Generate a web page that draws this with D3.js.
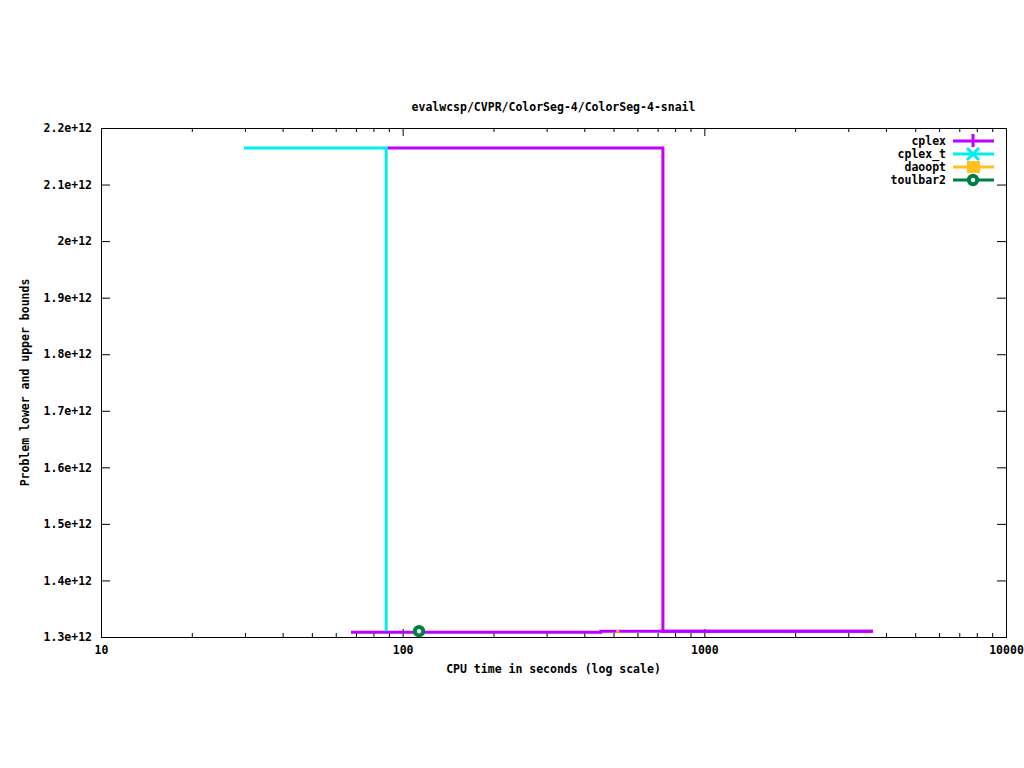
<!DOCTYPE html>
<html>
<head>
<meta charset="utf-8">
<script src="https://cdn.jsdelivr.net/npm/d3@7"></script>
<style>
  body { margin: 0; background: #fff; }
  text { font-family: "DejaVu Sans Mono", monospace; font-size: 11.5px; font-weight: bold; fill: #000; }
</style>
</head>
<body>
<div id="chart"></div>
<script>
// values
const title = "evalwcsp/CVPR/ColorSeg-4/ColorSeg-4-snail";
const xLabel = "CPU time in seconds (log scale)";
const yLabel = "Problem lower and upper bounds";

const seriesNames = ["cplex", "cplex_t", "daoopt", "toulbar2"];
const seriesColors = ["#c000ff", "#00eeee", "#ffc020", "#008040"];

// cplex has an upper and a lower trace
const cplexUpperTime = [88.9, 729, 3620];
const cplexUpperValue = [2.1646e12, 1.3102e12, 1.3102e12];
const cplexLowerTime = [67.4, 454, 3620];
const cplexLowerValue = [1.3085e12, 1.3102e12, 1.3102e12];

const cplexTTime = [29.8, 88.2];
const cplexTValue = [2.1646e12, 1.3102e12];

const daooptTime = [511, 522];
const daooptValue = [1.3102e12, 1.3102e12];

const toulbar2Time = [113.3];
const toulbar2Value = [1.3102e12];

const yTicks = [1.3e12, 1.4e12, 1.5e12, 1.6e12, 1.7e12, 1.8e12, 1.9e12, 2.0e12, 2.1e12, 2.2e12];
const yTickLabels = ["1.3e+12", "1.4e+12", "1.5e+12", "1.6e+12", "1.7e+12", "1.8e+12", "1.9e+12", "2e+12", "2.1e+12", "2.2e+12"];
const xMajor = [10, 100, 1000, 10000];

const width = 1024;
const height = 768;
const margin = { top: 128, right: 18, bottom: 131, left: 101 };

const svg = d3.select("#chart")
  .append("svg")
  .attr("width", width)
  .attr("height", height);

const x = d3.scaleLog().domain([10, 10000]).range([margin.left, width - margin.right]);
const y = d3.scaleLinear().domain([1.3e12, 2.2e12]).range([height - margin.bottom, margin.top]);

const xMinor = [];
for (let d = 10; d < 10000; d *= 10) {
  for (let k = 2; k <= 9; k++) xMinor.push(d * k);
}

const plotLeft = margin.left, plotRight = width - margin.right;
const plotTop = margin.top, plotBottom = height - margin.bottom;

// axes
const clean = g => g.call(g => g.select(".domain").remove())
  .call(g => g.selectAll("line").attr("stroke", "#000"));

svg.append("g")
  .attr("transform", `translate(${plotLeft},0)`)
  .call(d3.axisLeft(y).tickValues(yTicks).tickSize(-9).tickPadding(9)
    .tickFormat((d, i) => yTickLabels[i]))
  .call(clean)
  .call(g => g.selectAll("text").attr("fill", "#000"));

svg.append("g")
  .attr("transform", `translate(${plotRight},0)`)
  .call(d3.axisRight(y).tickValues(yTicks).tickSize(-9).tickFormat(""))
  .call(clean);

svg.append("g")
  .attr("transform", `translate(0,${plotBottom})`)
  .call(d3.axisBottom(x).tickValues(xMajor).tickSize(-8).tickPadding(9).tickFormat(d3.format("d")))
  .call(clean)
  .call(g => g.selectAll("text").attr("fill", "#000"));

svg.append("g")
  .attr("transform", `translate(0,${plotBottom})`)
  .call(d3.axisBottom(x).tickValues(xMinor).tickSize(-4).tickFormat(""))
  .call(clean);

svg.append("g")
  .attr("transform", `translate(0,${plotTop})`)
  .call(d3.axisTop(x).tickValues(xMajor).tickSize(-8).tickFormat(""))
  .call(clean);

svg.append("g")
  .attr("transform", `translate(0,${plotTop})`)
  .call(d3.axisTop(x).tickValues(xMinor).tickSize(-4).tickFormat(""))
  .call(clean);

svg.selectAll("g").filter(function () { return this.hasAttribute("font-family"); })
  .attr("font-family", null).attr("font-size", null);

// data lines
const line = d3.line()
  .x(d => x(d[0]))
  .y(d => y(d[1]))
  .curve(d3.curveStepAfter);

const zip = (t, v) => t.map((d, i) => [d, v[i]]);

const traces = [
  { data: zip(cplexLowerTime, cplexLowerValue), color: seriesColors[0] },
  { data: zip(cplexUpperTime, cplexUpperValue), color: seriesColors[0] },
  { data: zip(cplexTTime, cplexTValue), color: seriesColors[1] },
  { data: zip(daooptTime, daooptValue), color: seriesColors[2] }
];

svg.append("g")
  .selectAll("path")
  .data(traces)
  .join("path")
  .attr("fill", "none")
  .attr("stroke", d => d.color)
  .attr("stroke-width", 3)
  .attr("d", d => line(d.data));

svg.append("g")
  .selectAll("circle")
  .data(zip(toulbar2Time, toulbar2Value))
  .join("circle")
  .attr("cx", d => x(d[0]))
  .attr("cy", d => y(d[1]))
  .attr("r", 4.2)
  .attr("fill", "#fff")
  .attr("stroke", seriesColors[3])
  .attr("stroke-width", 4);

// border
svg.append("rect")
  .attr("x", plotLeft + 0.5)
  .attr("y", plotTop + 0.5)
  .attr("width", plotRight - plotLeft)
  .attr("height", plotBottom - plotTop)
  .attr("fill", "none")
  .attr("stroke", "#000")
  .attr("stroke-width", 1);

// legend
const legend = svg.append("g")
  .selectAll("g")
  .data(seriesNames)
  .join("g")
  .attr("transform", (d, i) => `translate(0,${141 + i * 13})`);

legend.append("text")
  .attr("x", 946)
  .attr("dy", "0.35em")
  .attr("text-anchor", "end")
  .text(d => d);

legend.append("line")
  .attr("x1", 953).attr("x2", 994)
  .attr("stroke", (d, i) => seriesColors[i])
  .attr("stroke-width", 3);

const mx = 973;
legend.each(function (d, i) {
  const g = d3.select(this);
  const c = seriesColors[i];
  if (i === 0) {
    g.append("path").attr("d", `M${mx},-7V6`).attr("stroke", c).attr("stroke-width", 3);
  } else if (i === 1) {
    g.append("path").attr("d", `M${mx - 6},-6L${mx + 6},6M${mx - 6},6L${mx + 6},-6`)
      .attr("stroke", c).attr("stroke-width", 3);
  } else if (i === 2) {
    g.append("rect").attr("x", mx - 6).attr("y", -6).attr("width", 13).attr("height", 12).attr("fill", c);
  } else {
    g.append("circle").attr("cx", mx).attr("r", 4.2).attr("fill", "#fff")
      .attr("stroke", c).attr("stroke-width", 4);
  }
});

// titles
svg.append("text")
  .attr("x", (plotLeft + plotRight) / 2)
  .attr("y", 111)
  .attr("text-anchor", "middle")
  .text(title);

svg.append("text")
  .attr("x", (plotLeft + plotRight) / 2)
  .attr("y", 673)
  .attr("text-anchor", "middle")
  .text(xLabel);

svg.append("text")
  .attr("transform", `translate(29,${(plotTop + plotBottom) / 2}) rotate(-90)`)
  .attr("text-anchor", "middle")
  .text(yLabel);
</script>
</body>
</html>
